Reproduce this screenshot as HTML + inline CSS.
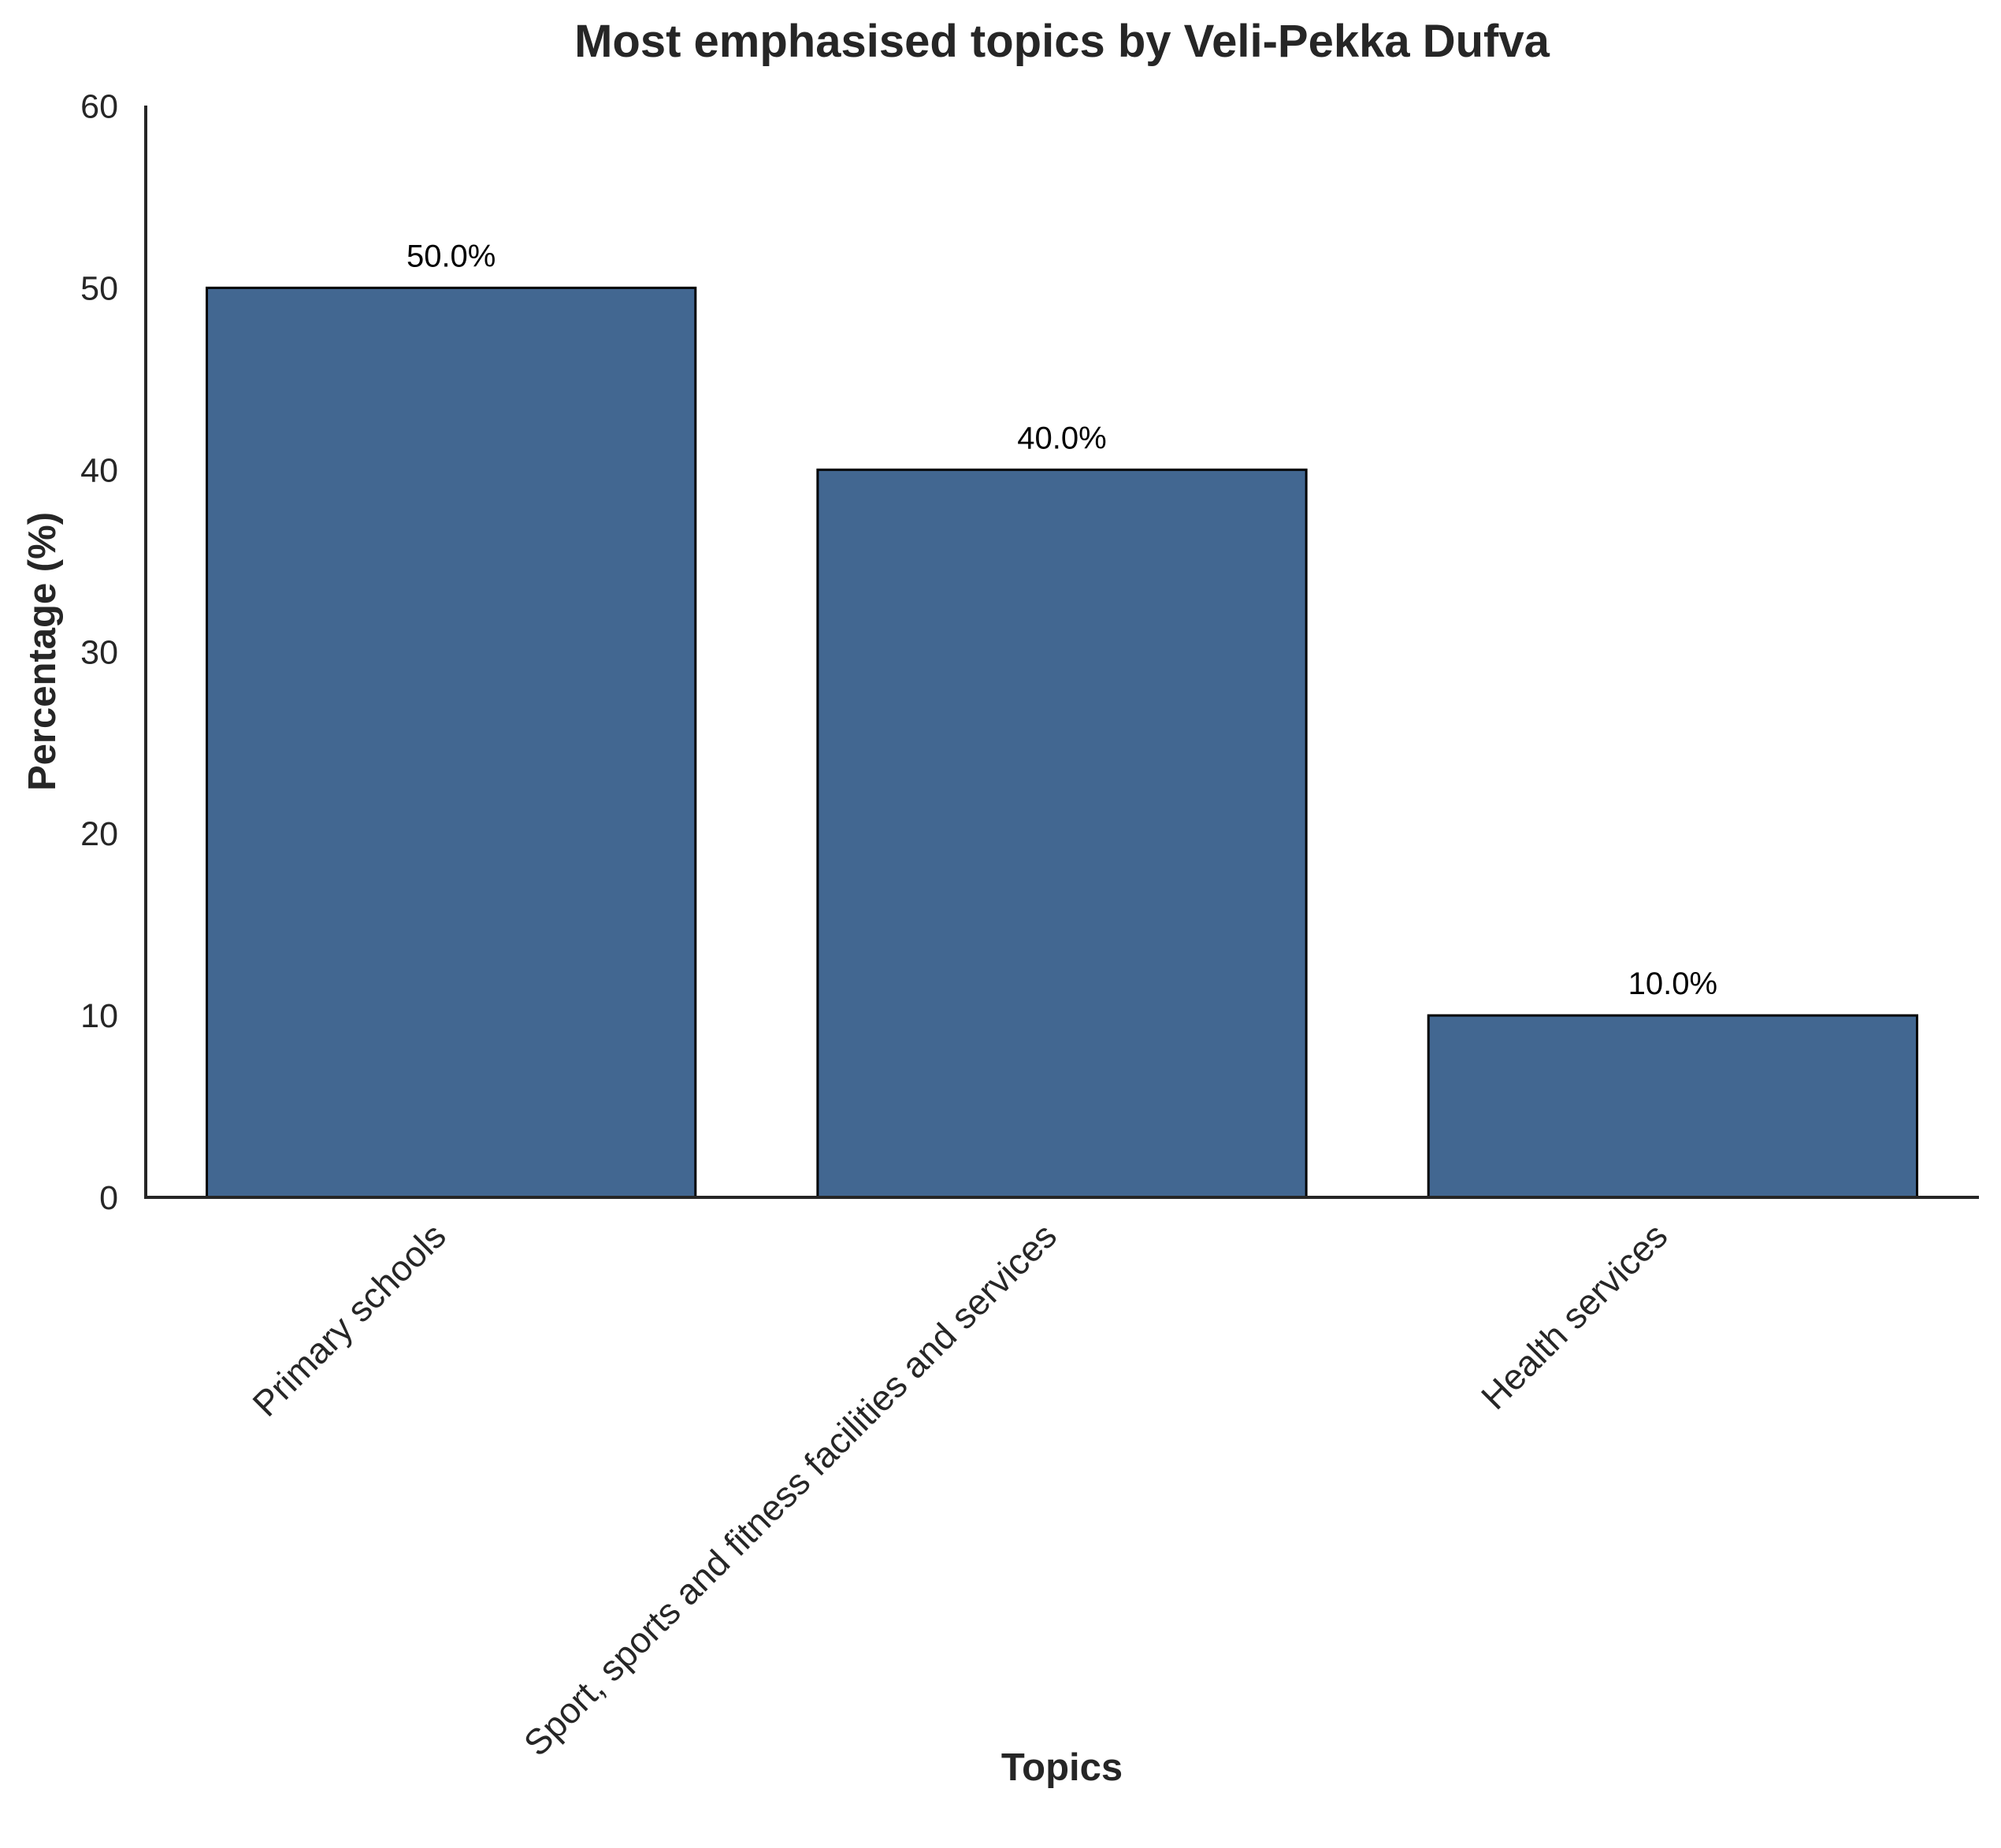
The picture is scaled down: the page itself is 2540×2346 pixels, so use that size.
<!DOCTYPE html>
<html><head><meta charset="utf-8"><style>
html,body{margin:0;padding:0;background:#fff;}
svg{display:block;font-family:"Liberation Sans",Arial,sans-serif;}
</style></head><body>
<svg id="chart" width="2540" height="2346" viewBox="0 0 2540 2346">
<text x="1348" y="72" text-anchor="middle" font-size="58" font-weight="bold" fill="#262626">Most emphasised topics by Veli-Pekka Dufva</text>
<g id="yticks"></g>
<g id="bars"></g>
<g id="xticks"></g>
<line x1="185" y1="134" x2="185" y2="1522" stroke="#262626" stroke-width="4"/>
<line x1="183" y1="1520" x2="2512" y2="1520" stroke="#262626" stroke-width="4"/>
<text transform="translate(70,827) rotate(-90)" text-anchor="middle" font-size="49" font-weight="bold" fill="#262626">Percentage (%)</text>
<text x="1348" y="2260" text-anchor="middle" font-size="49" font-weight="bold" fill="#262626">Topics</text>
</svg>
<script>
const categories = ["Primary schools","Sport, sports and fitness facilities and services","Health services"];
const values = [50.0, 40.0, 10.0];
const yTicks = [0,10,20,30,40,50,60];
const NS="http://www.w3.org/2000/svg";
const x0=185,x1=2511,y0=1520,yTop=134.5,yMax=60;
const n=categories.length, step=(x1-x0)/n;
function yScale(v){return y0-(v/yMax)*(y0-yTop);}
function xCenter(i){return x0+step*(i+0.5);}
function mk(tag,attrs,parent){const e=document.createElementNS(NS,tag);for(const k in attrs)e.setAttribute(k,attrs[k]);parent.appendChild(e);return e;}
const yg=document.getElementById('yticks'),bg=document.getElementById('bars'),xg=document.getElementById('xticks');
yTicks.forEach(t=>{
  const el=mk('text',{x:150,y:yScale(t)+15,'text-anchor':'end','font-size':43,fill:'#262626'},yg);
  el.textContent=t;
  
  
});
const bw=step*0.8;
values.forEach((v,i)=>{
  const r=mk('rect',{x:xCenter(i)-bw/2,y:yScale(v),width:bw,height:y0-yScale(v),fill:'#426791',stroke:'#000','stroke-width':3},bg);
  
  
  const l=mk('text',{x:xCenter(i),y:yScale(v)-27,'text-anchor':'middle','font-size':40,fill:'#000'},bg);
  l.textContent=v.toFixed(1)+'%';
  
  
});
categories.forEach((c,i)=>{
  const cx=xCenter(i)-4, cy=y0+52;
  const t=mk('text',{transform:`translate(${cx},${cy}) rotate(-45)`,'text-anchor':'end','font-size':45.5,fill:'#262626'},xg);
  t.textContent=c;
  
  
});
</script>
</body></html>
